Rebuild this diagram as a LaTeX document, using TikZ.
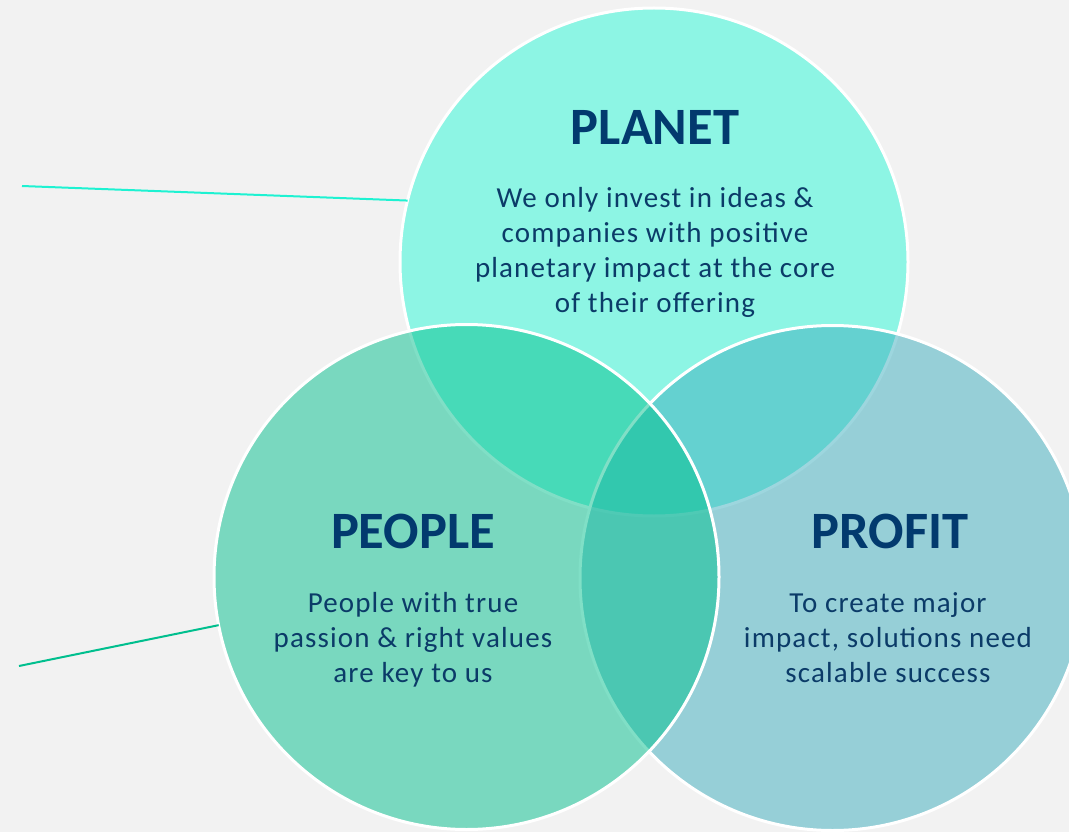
\documentclass[tikz,border=0pt]{standalone}
\usepackage{fontspec}
\setmainfont{Carlito}
\newfontfamily\bodyfont[LetterSpace=4]{Carlito}
\definecolor{bgcol}{HTML}{F2F2F2}
\definecolor{planetcol}{HTML}{8DF5E4}
\definecolor{profitcol}{RGB}{60,174,190}
\definecolor{peoplecol}{RGB}{2,192,142}
\definecolor{titlecol}{HTML}{023A6E}
\definecolor{bodycol}{HTML}{0B3B68}
\definecolor{planetline}{HTML}{1EF2D2}
\definecolor{peopleline}{HTML}{00BF8E}
\begin{document}
\begin{tikzpicture}[x=1pt,y=-1pt,
  venn/.style={circle, draw=white, line width=3pt, inner sep=0pt, outer sep=0pt},
  title/.style={font=\fontsize{52.5}{62}\selectfont\bfseries, text=titlecol, anchor=base, inner sep=0pt},
  body/.style={font=\bodyfont\fontsize{29}{35}\selectfont, text=bodycol, align=center, anchor=base, inner sep=0pt},
  leader/.style={line width=2pt}
]
\useasboundingbox (0,0) rectangle (1069,832);
\fill[bgcol] (0,0) rectangle (1069,832);
% circles
\node[venn, fill=planetcol, minimum size=508pt] (planet) at (654,262) {};
\node[venn, fill=profitcol, fill opacity=0.5, minimum size=505pt] (profit) at (832.5,578) {};
\node[venn, fill=peoplecol, fill opacity=0.5, minimum size=505pt] (people) at (466.5,577) {};
% leader lines
\coordinate (planetfree) at (22,186);
\coordinate (peoplefree) at (19,666);
\draw[leader, planetline] (planetfree) -- (planet.166.2);
\draw[leader, peopleline] (peoplefree) -- (people.191.1);
% titles
\node[title] (planettitle) at (655,145) {PLANET};
\node[title] (peopletitle) at (413,548) {PEOPLE};
\node[title] (profittitle) at (890,548) {PROFIT};
% body texts (base anchor = baseline of last line)
\node[body] (planettext) at (655,312) {We only invest in ideas \&\\companies with positive\\planetary impact at the core\\of their offering};
\node[body] (peopletext) at (413,682) {People with true\\passion \& right values\\are key to us};
\node[body] (profittext) at (888,682) {To create major\\impact, solutions need\\scalable success};
\end{tikzpicture}
\end{document}
